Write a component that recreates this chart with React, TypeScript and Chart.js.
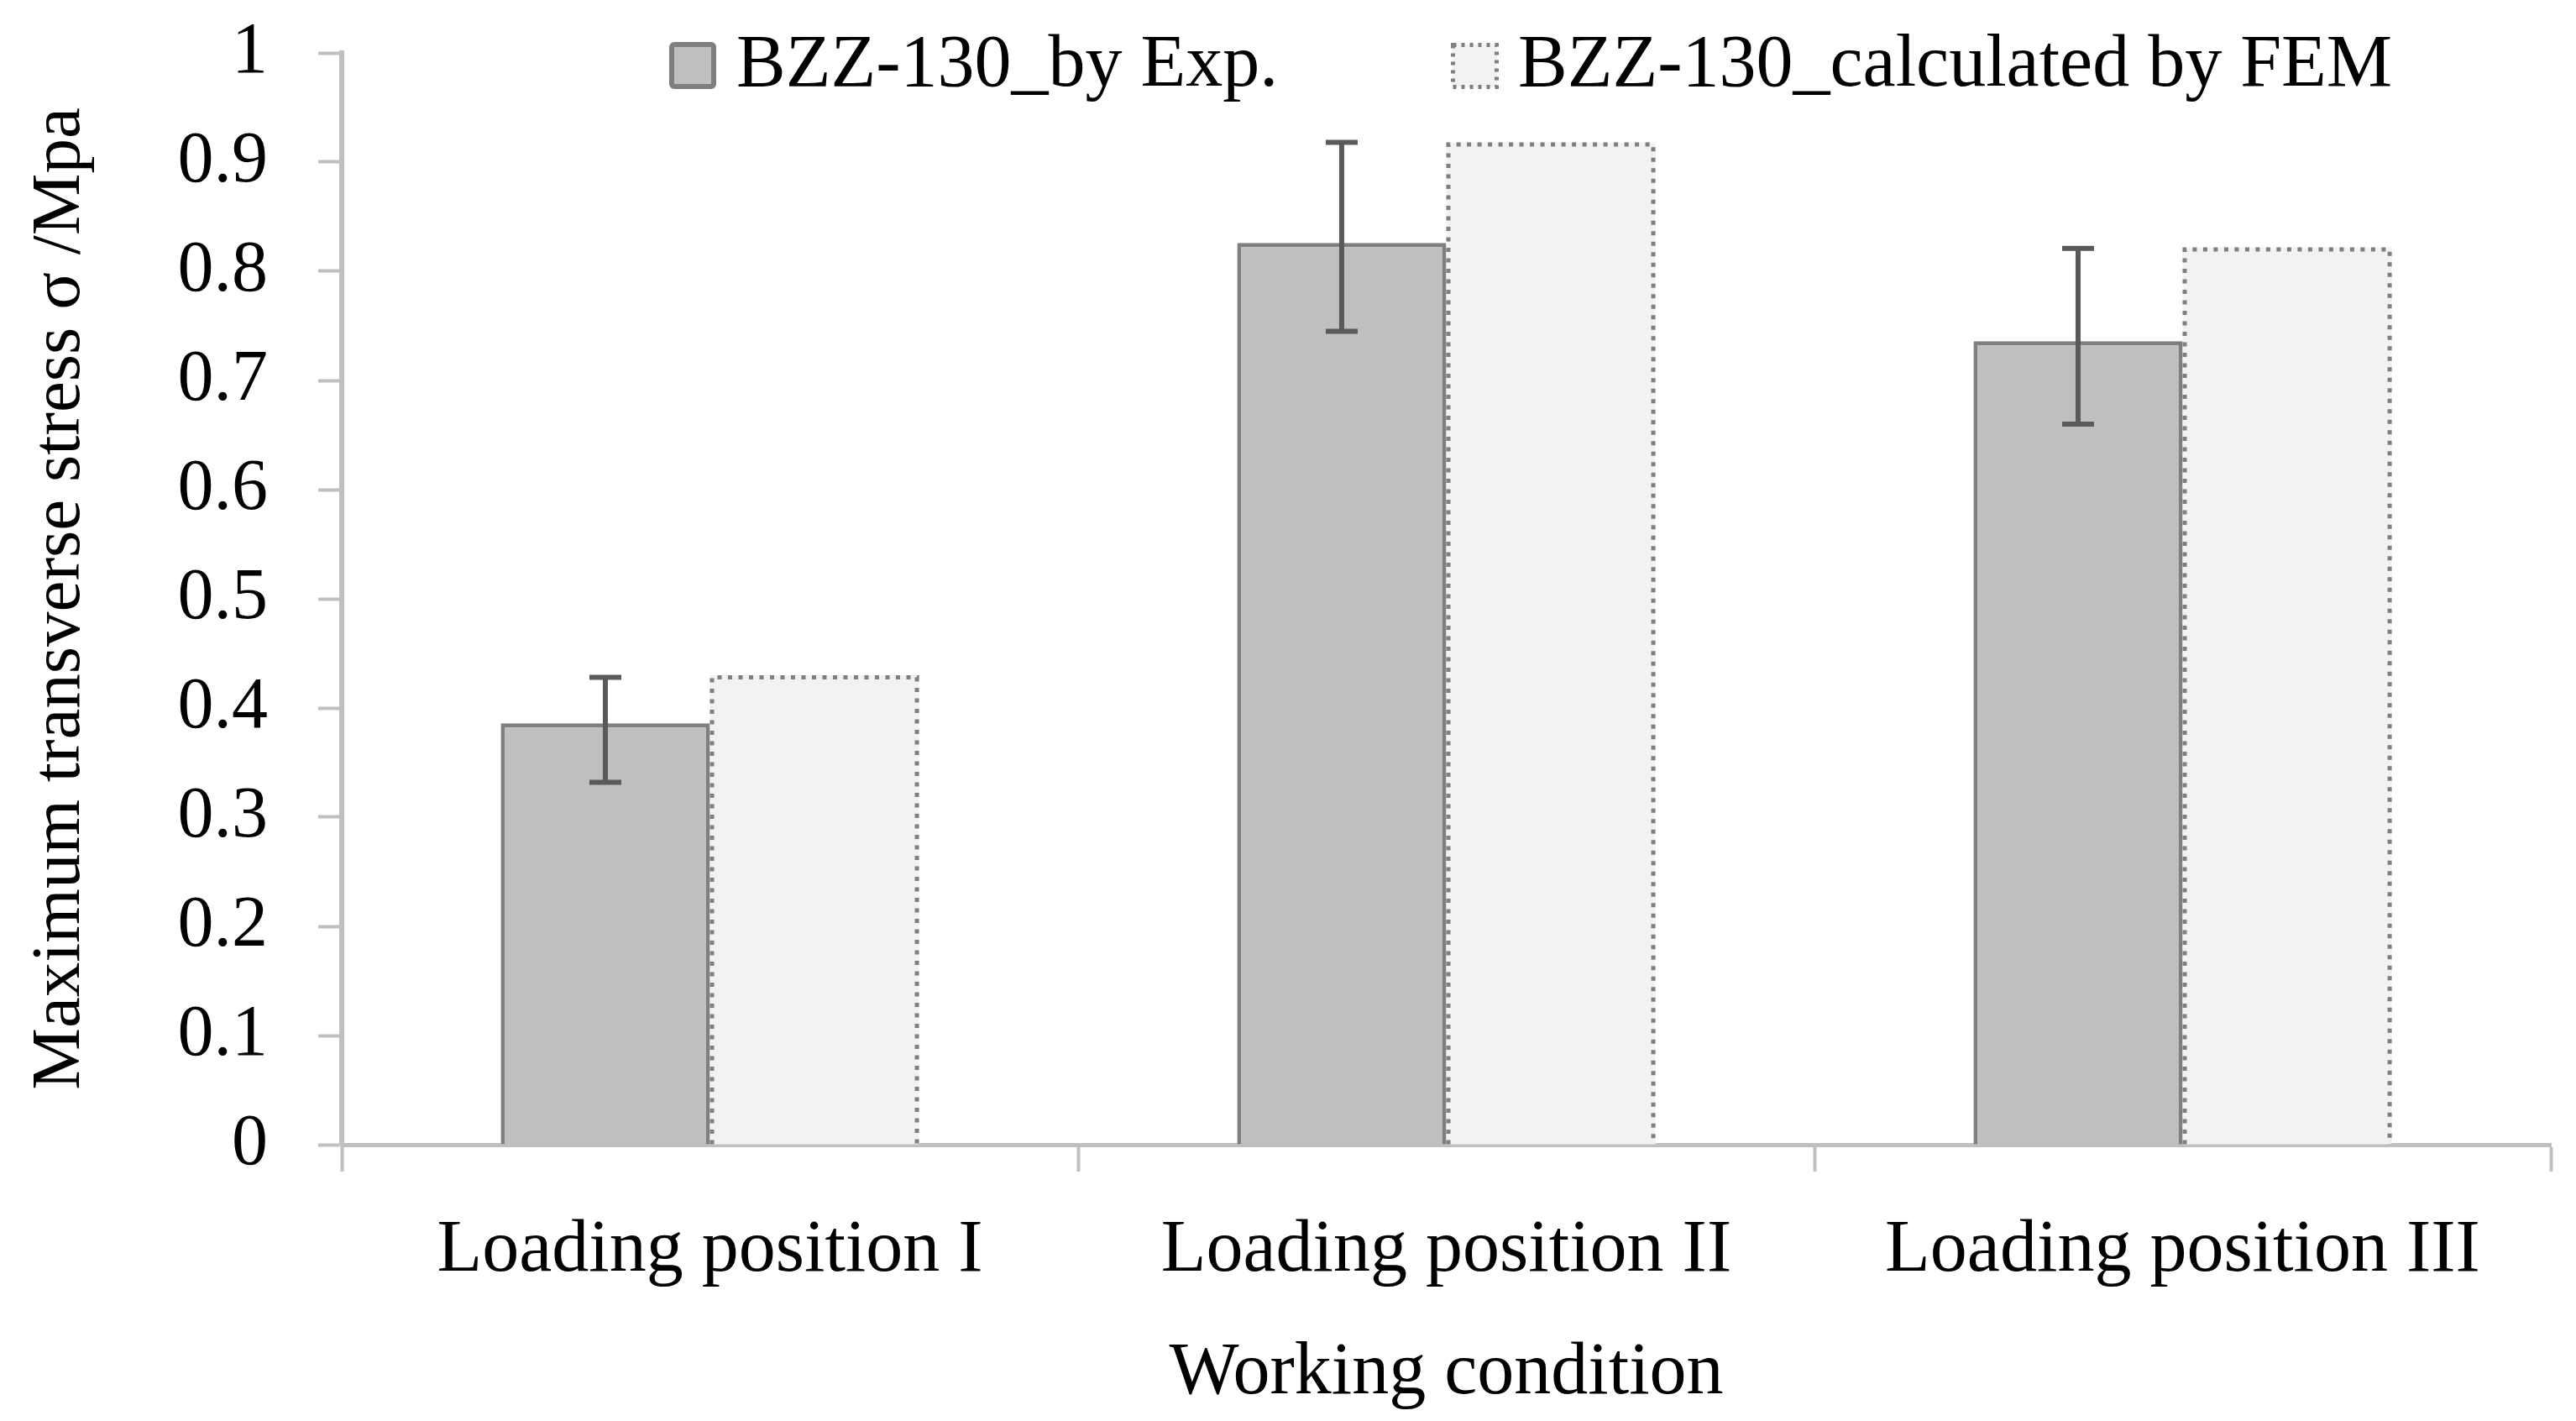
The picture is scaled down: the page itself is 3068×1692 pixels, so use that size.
import React, { useEffect, useRef } from "react";
import { Chart, registerables } from "chart.js";

Chart.register(...registerables);

const categories = ["Loading position I", "Loading position II", "Loading position III"];
const seriesNames = ["BZZ-130_by Exp.", "BZZ-130_calculated by FEM"];
const expValues = [0.386, 0.826, 0.736];
const femValues = [0.43, 0.918, 0.822];
const expErrHigh = [0.428, 0.918, 0.821];
const expErrLow = [0.332, 0.745, 0.66];
const yTickLabels = ["0", "0.1", "0.2", "0.3", "0.4", "0.5", "0.6", "0.7", "0.8", "0.9", "1"];
const yTitle = "Maximum transverse stress σ /Mpa";
const xTitle = "Working condition";

const FONT = "'Liberation Serif', 'Times New Roman', serif";
const EXP_FILL = "#BFBFBF";
const FEM_FILL = "#F2F2F2";
const EDGE = "#7F7F7F";
const ERR = "#595959";
const AXIS = "#BFBFBF";

const femBorderPlugin = {
  id: "femBorder",
  afterDatasetsDraw(chart: any) {
    const ctx = chart.ctx;
    const meta = chart.getDatasetMeta(1);
    ctx.save();
    ctx.strokeStyle = EDGE;
    ctx.lineWidth = 5;
    ctx.setLineDash([5, 7.5]);
    meta.data.forEach((bar: any) => {
      const p = bar.getProps(["x", "y", "base", "width"], true);
      const l = p.x - p.width / 2 + 2.5;
      const r = p.x + p.width / 2 - 2.5;
      const t = p.y + 2.5;
      ctx.beginPath();
      ctx.moveTo(l, p.base);
      ctx.lineTo(l, t);
      ctx.lineTo(r, t);
      ctx.lineTo(r, p.base);
      ctx.stroke();
    });
    ctx.restore();
  },
};

const errorBarPlugin = {
  id: "errorBars",
  afterDatasetsDraw(chart: any) {
    const ctx = chart.ctx;
    const meta = chart.getDatasetMeta(0);
    const yScale = chart.scales.y;
    ctx.save();
    ctx.strokeStyle = ERR;
    ctx.lineWidth = 6;
    ctx.lineCap = "butt";
    meta.data.forEach((bar: any, i: number) => {
      const x = bar.x;
      const yt = yScale.getPixelForValue(expErrHigh[i]);
      const yb = yScale.getPixelForValue(expErrLow[i]);
      ctx.beginPath();
      ctx.moveTo(x, yt);
      ctx.lineTo(x, yb);
      ctx.moveTo(x - 19, yt);
      ctx.lineTo(x + 19, yt);
      ctx.moveTo(x - 19, yb);
      ctx.lineTo(x + 19, yb);
      ctx.stroke();
    });
    ctx.restore();
  },
};

function roundRect(ctx: any, x: number, y: number, w: number, h: number, r: number) {
  ctx.beginPath();
  ctx.moveTo(x + r, y);
  ctx.lineTo(x + w - r, y);
  ctx.arcTo(x + w, y, x + w, y + r, r);
  ctx.lineTo(x + w, y + h - r);
  ctx.arcTo(x + w, y + h, x + w - r, y + h, r);
  ctx.lineTo(x + r, y + h);
  ctx.arcTo(x, y + h, x, y + h - r, r);
  ctx.lineTo(x, y + r);
  ctx.arcTo(x, y, x + r, y, r);
  ctx.closePath();
}

const legendPlugin = {
  id: "customLegend",
  afterDraw(chart: any) {
    const ctx = chart.ctx;
    ctx.save();
    roundRect(ctx, 800, 53, 50, 50, 3);
    ctx.fillStyle = EXP_FILL;
    ctx.fill();
    ctx.strokeStyle = EDGE;
    ctx.lineWidth = 6;
    ctx.stroke();
    ctx.fillStyle = FEM_FILL;
    ctx.fillRect(1730, 53, 53, 51);
    ctx.setLineDash([4, 6]);
    ctx.lineWidth = 5;
    ctx.strokeRect(1730.5, 53.5, 52, 50);
    ctx.setLineDash([]);
    ctx.fillStyle = "#000";
    ctx.font = `88px ${FONT}`;
    ctx.textBaseline = "alphabetic";
    ctx.textAlign = "left";
    ctx.fillText(seriesNames[0], 877, 102);
    ctx.fillText(seriesNames[1], 1808, 102);
    ctx.restore();
  },
};

export default function App() {
  const ref = useRef<HTMLCanvasElement | null>(null);
  useEffect(() => {
    document.body.style.margin = "0";
    const canvas = ref.current;
    if (!canvas) return;
    const chart = new Chart(canvas, {
      type: "bar",
      data: {
        labels: categories,
        datasets: [
          {
            label: seriesNames[0],
            data: expValues,
            backgroundColor: EXP_FILL,
            borderColor: EDGE,
            borderWidth: 5,
            borderSkipped: "bottom",
            categoryPercentage: 0.568,
            barPercentage: 1,
          },
          {
            label: seriesNames[1],
            data: femValues,
            backgroundColor: FEM_FILL,
            borderWidth: 0,
            categoryPercentage: 0.568,
            barPercentage: 1,
          },
        ],
      },
      options: {
        responsive: false,
        devicePixelRatio: 1,
        animation: false,
        layout: { padding: { top: 63, right: 30, left: 0, bottom: 0 } },
        font: { family: FONT },
        plugins: {
          legend: { display: false },
          tooltip: { enabled: false },
        },
        scales: {
          x: {
            ticks: { color: "#000", font: { family: FONT, size: 88 }, padding: 42, maxRotation: 0 },
            grid: {
              offset: true,
              drawOnChartArea: false,
              drawTicks: true,
              tickLength: 32,
              tickWidth: 4,
              tickColor: AXIS,
            },
            border: { display: true, color: AXIS, width: 5 },
            title: {
              display: true,
              text: xTitle,
              color: "#000",
              font: { family: FONT, size: 88 },
              padding: { top: 0, bottom: 3 },
            },
            afterFit: (s: any) => {
              s.height = 329;
              s.paddingLeft = 0;
              s.paddingRight = 0;
            },
          },
          y: {
            min: 0,
            max: 1,
            ticks: {
              stepSize: 0.1,
              color: "#000",
              font: { family: FONT, size: 86 },
              padding: 60,
              callback: (_v: any, i: number) => yTickLabels[i],
            },
            grid: {
              drawOnChartArea: false,
              drawTicks: true,
              tickLength: 28,
              tickWidth: 4,
              tickColor: AXIS,
            },
            border: { display: true, color: AXIS, width: 6 },
            title: {
              display: true,
              text: yTitle,
              color: "#000",
              font: { family: FONT, size: 83 },
              padding: { top: 22, bottom: 0 },
            },
            afterFit: (s: any) => {
              s.width = 407;
              s.paddingTop = 0;
              s.paddingBottom = 0;
            },
          },
        },
      } as any,
      plugins: [femBorderPlugin, errorBarPlugin, legendPlugin],
    });
    return () => chart.destroy();
  }, []);
  return (
    <div style={{ width: 3068, height: 1692, background: "#fff" }}>
      <canvas ref={ref} width={3068} height={1692} style={{ display: "block", width: 3068, height: 1692 }} />
    </div>
  );
}
